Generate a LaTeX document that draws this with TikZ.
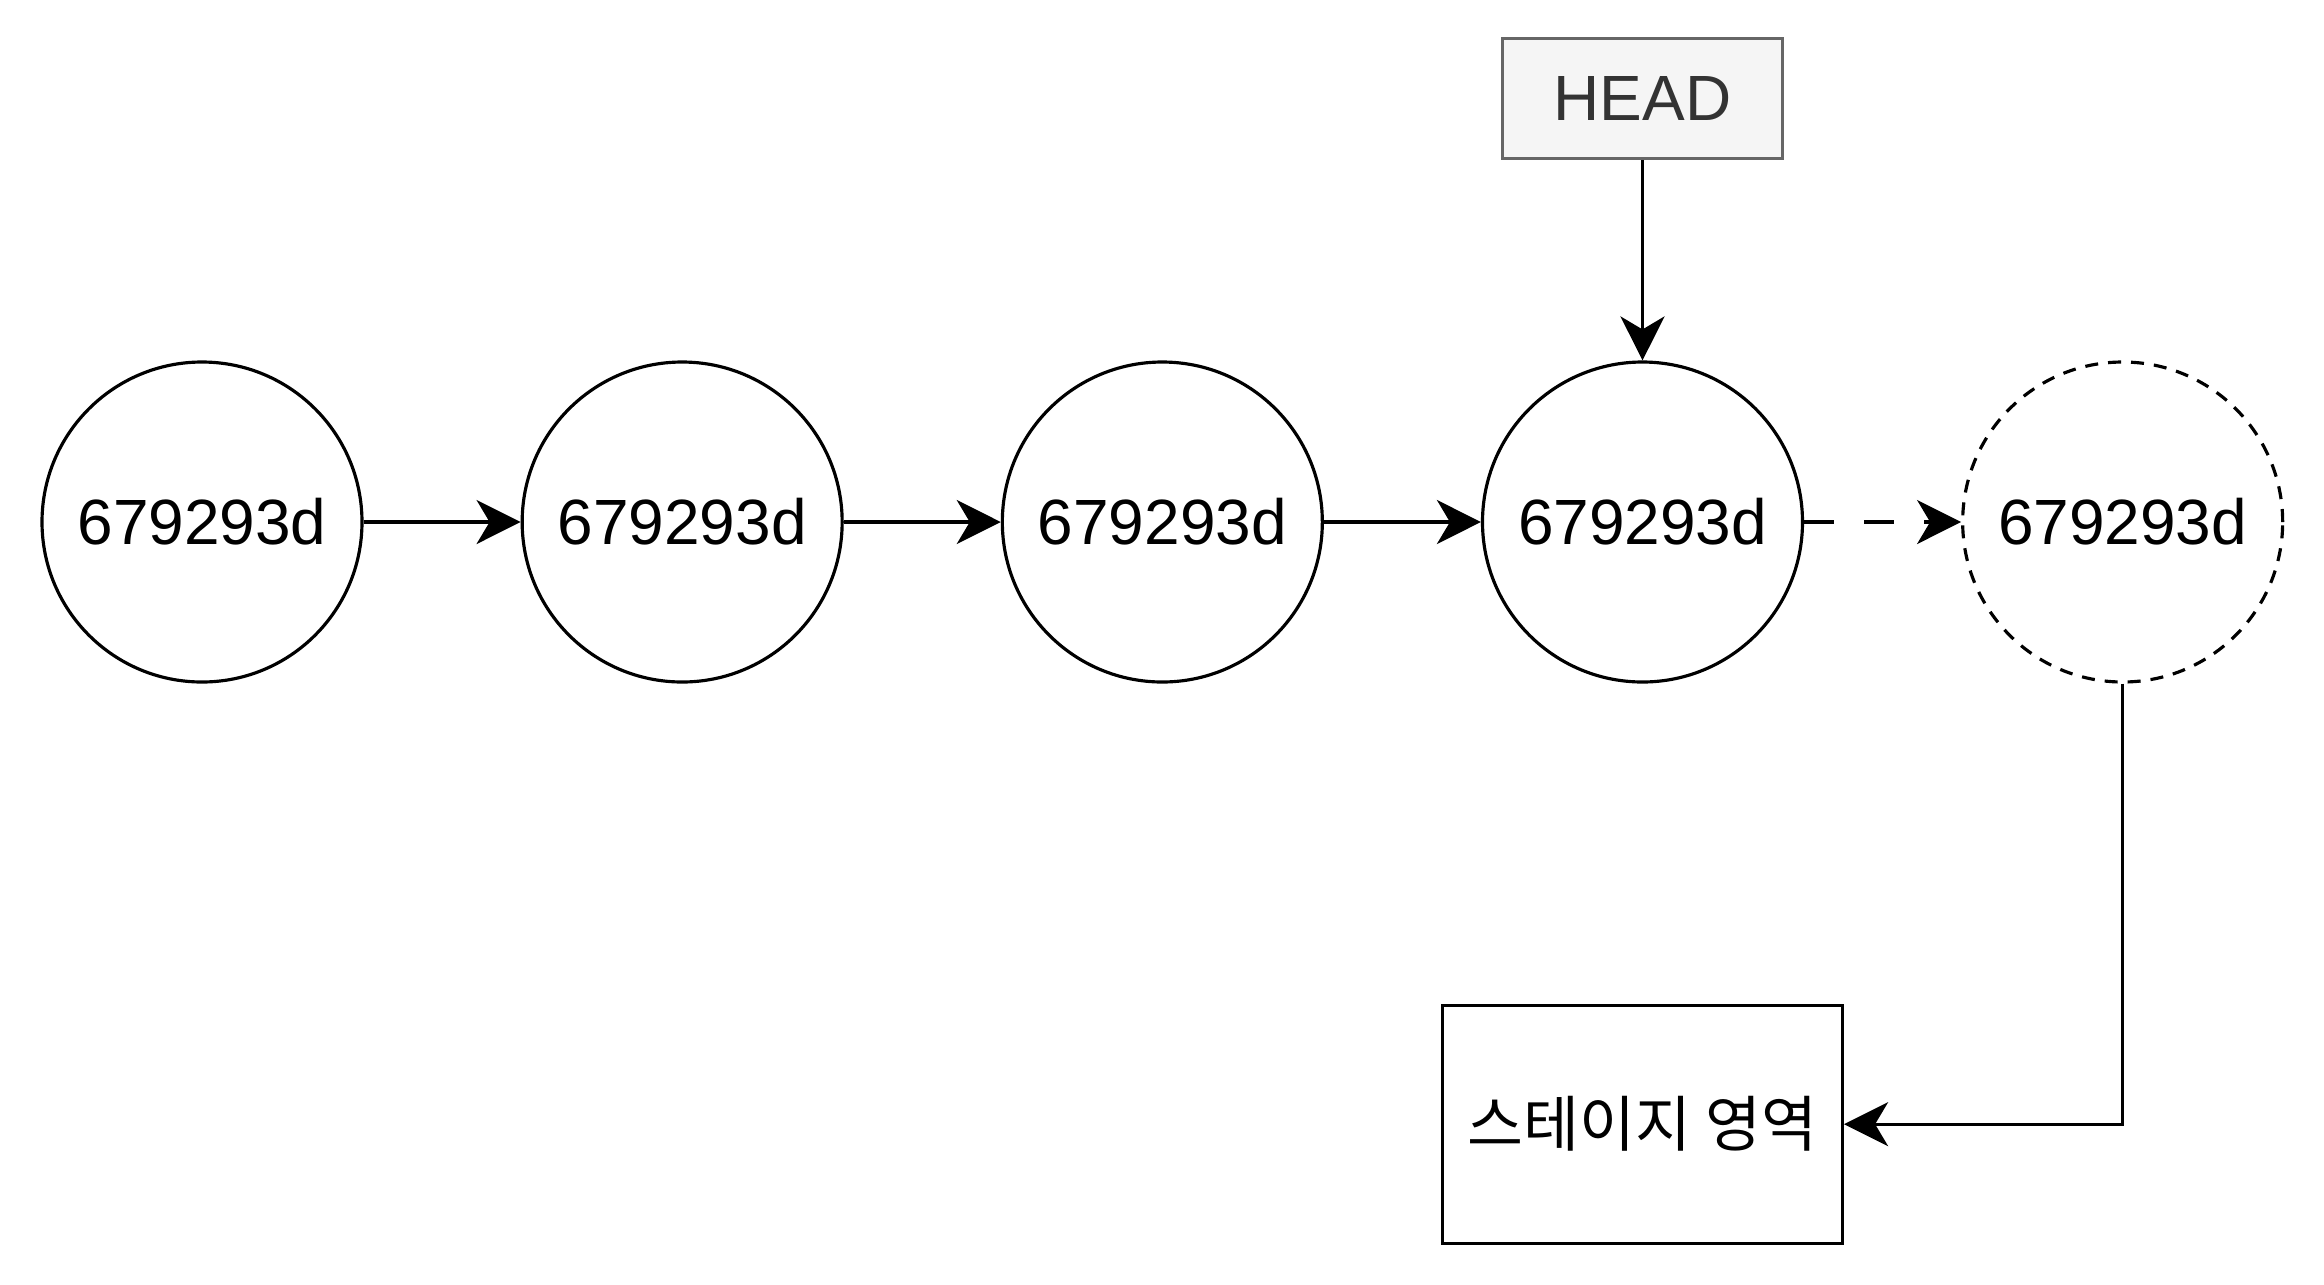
\documentclass[tikz,border=0pt]{standalone}
\usepackage{fontspec}
\setmainfont{Liberation Sans}
\newfontfamily\krfont[Scale=0.95]{Noto Sans CJK KR}
\usepackage{tikz}
\usetikzlibrary{positioning,arrows.meta}
\definecolor{headfill}{HTML}{F5F5F5}
\definecolor{headline}{HTML}{666666}
\definecolor{headtext}{HTML}{333333}

\begin{document}
\begin{tikzpicture}[->,>={Stealth[length=4.4mm,width=4.4mm,inset=1.3mm]},line width=0.9pt,node distance=1.57cm,font=\fontsize{18.2}{22}\selectfont]
	\tikzset{commit/.style={circle,draw,minimum size=3.2cm,inner sep=0pt},
		newcommit/.style={commit,dash pattern=on 0.13cm off 0.1cm}}
	\useasboundingbox (0,0) rectangle (23.24,-12.84);
			\node[commit] (c1) at (2.02,-5.22) {679293d};
			\node[commit] (c2) [right=of c1] {679293d};
			\node[commit] (c3) [right=of c2] {679293d};
			\node[commit] (c4) [right=of c3] {679293d};
			\node[newcommit] (c5) [right=of c4] {679293d};
			\node[draw=headline,fill=headfill,text=headtext,minimum width=2.8cm,minimum height=1.2cm] (head) [above=2cm of c4] {HEAD};
			\node[draw,minimum width=4cm,minimum height=2.38cm] (stage) [below=3.2cm of c4] {\krfont 스테이지 영역};

			\draw 	(c1) edge (c2)
					(c2) edge (c3)
					(c3) edge (c4)
					(head) edge (c4);
			\draw[dash pattern=on 0.3cm off 0.3cm] (c4) -- (c5);
			\draw (c5) |- (stage);
\end{tikzpicture}
\end{document}
